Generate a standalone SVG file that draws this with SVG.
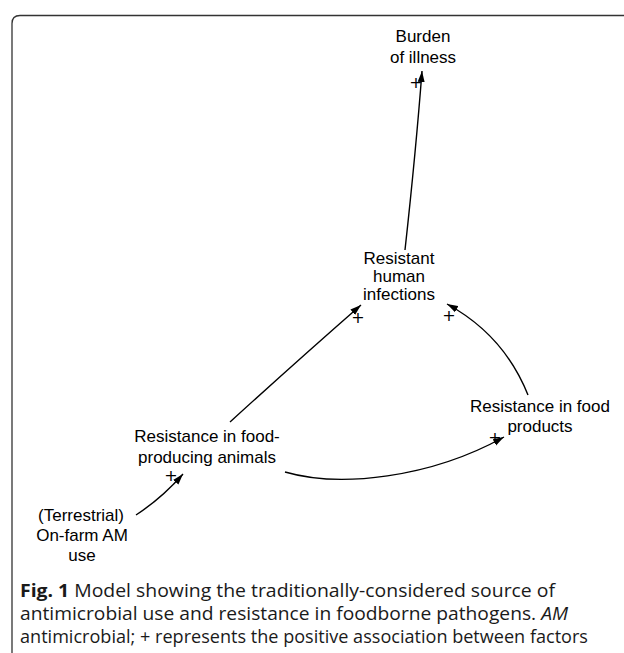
<svg xmlns="http://www.w3.org/2000/svg" width="624" height="653" viewBox="0 0 624 653">
<defs>
<marker id="ah" markerWidth="12" markerHeight="8" refX="11" refY="4" orient="auto" markerUnits="userSpaceOnUse">
<path d="M0,0.5 L11,4 L0,7.5 Z" fill="#000"/>
</marker>
<style>
.node{font-family:"Liberation Sans",Arial,sans-serif;font-size:17px;fill:#000;text-anchor:middle}
.plus{font-family:"DejaVu Sans",sans-serif;font-size:16px;fill:#000;text-anchor:middle;dominant-baseline:central}
.edge{fill:none;stroke:#000;stroke-width:1.4;marker-end:url(#ah)}
.cap{font-family:"Open Sans","Noto Sans",sans-serif;font-size:18px;fill:#1a1a1a}
</style>
</defs>
<rect width="624" height="653" fill="#fff"/>
<path d="M624,15.5 H20 Q12,15.5 12,23.5 V653" fill="none" stroke="#333" stroke-width="1.3"/>
<g id="connectors">
<path class="edge" d="M405,250 Q416,150 422,71"/>
<path class="edge" d="M230,422 Q297,361 361,305"/>
<path class="edge" d="M528,395 Q504,335 447,304"/>
<path class="edge" d="M285,472 C340,488 430,478 504,437"/>
<path class="edge" d="M136,515 Q162,498 183,474"/>
<text class="plus" x="416" y="82">+</text>
<text class="plus" x="358" y="317">+</text>
<text class="plus" x="449" y="315">+</text>
<text class="plus" x="495" y="437">+</text>
<text class="plus" x="171" y="475">+</text>
</g>
<g id="burden">
<text class="node" x="423" y="42">Burden</text>
<text class="node" x="423" y="63">of illness</text>
</g>
<g id="infections">
<text class="node" x="399" y="264">Resistant</text>
<text class="node" x="399" y="282">human</text>
<text class="node" x="399" y="300">infections</text>
</g>
<g id="animals">
<text class="node" x="207" y="442">Resistance in food-</text>
<text class="node" x="207" y="463">producing animals</text>
</g>
<g id="products">
<text class="node" x="540" y="412">Resistance in food</text>
<text class="node" x="540" y="432">products</text>
</g>
<g id="onfarm">
<text class="node" x="81" y="521">(Terrestrial)</text>
<text class="node" x="82" y="541">On-farm AM</text>
<text class="node" x="82" y="561">use</text>
</g>
<g id="caption">
<text class="cap" x="20" y="597" textLength="535" lengthAdjust="spacingAndGlyphs"><tspan font-weight="bold">Fig. 1</tspan>  Model showing the traditionally-considered source of</text>
<text class="cap" x="20" y="620" textLength="548" lengthAdjust="spacingAndGlyphs">antimicrobial use and resistance in foodborne pathogens. <tspan font-style="italic">AM</tspan></text>
<text class="cap" x="20" y="643" textLength="568" lengthAdjust="spacingAndGlyphs">antimicrobial; + represents the positive association between factors</text>
</g>
</svg>
